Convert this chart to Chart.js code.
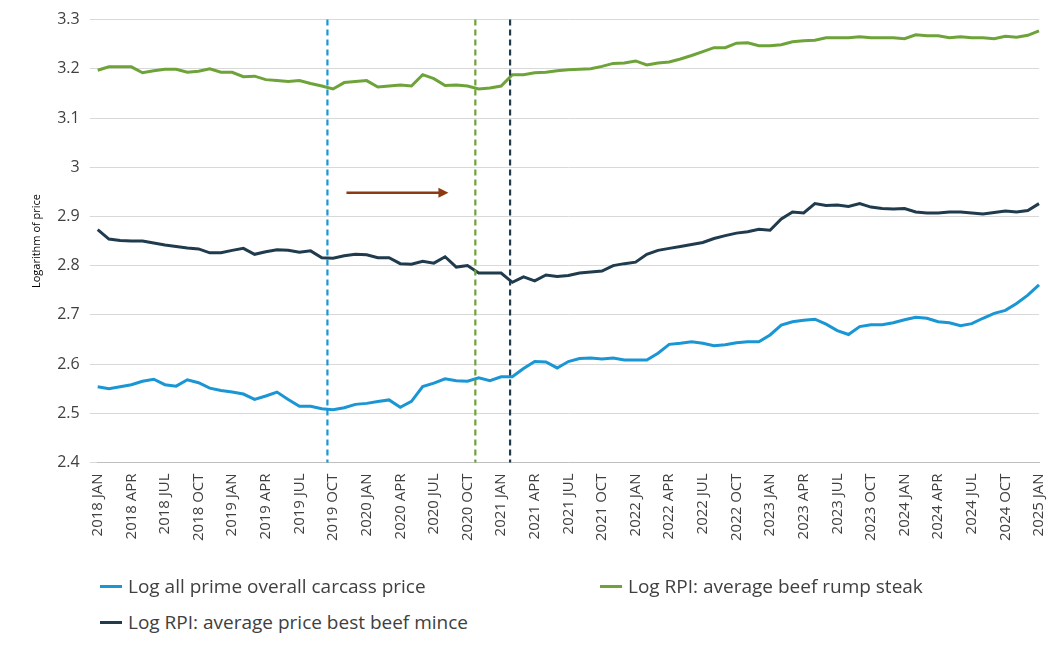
<!DOCTYPE html>
<html>
<head>
<meta charset="utf-8">
<script src="https://cdn.jsdelivr.net/npm/chart.js@4"></script>
<style>
body { margin: 0; background: #fff; font-family: "Open Sans", "Liberation Sans", sans-serif; }
#wrap { position: relative; width: 1060px; height: 655px; }
.leg { position: absolute; font-size: 19px; color: #404040; display: flex; align-items: center; }
.leg span { display: inline-block; width: 22px; height: 3px; margin-right: 6px; }
</style>
</head>
<body>
<div id="wrap">
<canvas id="c" width="1060" height="575" style="width:1060px;height:575px"></canvas>
<div class="leg" style="left:100px;top:573px"><span style="background:#1a96d4"></span>Log all prime overall carcass price</div>
<div class="leg" style="left:600px;top:573px"><span style="background:#6ea33a"></span>Log RPI: average beef rump steak</div>
<div class="leg" style="left:100px;top:609px"><span style="background:#1f3b4d"></span>Log RPI: average price best beef mince</div>
</div>
<script>
const months = ['JAN','FEB','MAR','APR','MAY','JUN','JUL','AUG','SEP','OCT','NOV','DEC'];
const labels = [];
for (let y = 2018; y <= 2025; y++) months.forEach(m => { if (labels.length < 85) labels.push(y + ' ' + m); });

const carcass = [2.554,2.55,2.554,2.558,2.565,2.569,2.558,2.555,2.568,2.562,2.551,2.546,2.543,2.539,2.528,2.535,
  2.543,2.528,2.514,2.514,2.509,2.507,2.511,2.518,2.52,2.524,2.527,2.512,2.524,2.554,2.561,2.57,2.566,2.565,2.572,
  2.566,2.574,2.574,2.591,2.605,2.604,2.592,2.605,2.611,2.612,2.61,2.612,2.608,2.608,2.608,2.622,2.64,2.642,2.645,
  2.642,2.637,2.639,2.643,2.645,2.645,2.659,2.679,2.686,2.689,2.691,2.681,2.668,2.66,2.676,2.68,2.68,2.684,2.69,
  2.695,2.693,2.686,2.684,2.678,2.682,2.693,2.703,2.709,2.723,2.74,2.761];
const rump = [3.197,3.204,3.204,3.204,3.192,3.196,3.199,3.199,3.193,3.195,3.2,3.193,3.193,3.184,3.185,3.178,3.176,
  3.174,3.176,3.17,3.165,3.159,3.172,3.174,3.176,3.163,3.165,3.167,3.165,3.188,3.18,3.166,3.167,3.165,3.159,3.161,
  3.165,3.188,3.188,3.192,3.193,3.196,3.198,3.199,3.2,3.205,3.211,3.212,3.216,3.208,3.212,3.214,3.22,3.227,3.235,
  3.243,3.243,3.252,3.253,3.247,3.247,3.249,3.255,3.257,3.258,3.263,3.263,3.263,3.265,3.263,3.263,3.263,3.261,
  3.269,3.267,3.267,3.263,3.265,3.263,3.263,3.261,3.266,3.264,3.268,3.277];
const mince = [2.873,2.854,2.851,2.85,2.85,2.846,2.842,2.839,2.836,2.834,2.826,2.826,2.831,2.835,2.823,2.828,2.832,
  2.831,2.827,2.83,2.816,2.815,2.82,2.823,2.822,2.816,2.816,2.804,2.803,2.809,2.805,2.818,2.797,2.8,2.785,2.785,
  2.785,2.766,2.777,2.769,2.781,2.778,2.78,2.785,2.787,2.789,2.8,2.804,2.807,2.823,2.831,2.835,2.839,2.843,2.847,
  2.855,2.861,2.866,2.869,2.874,2.872,2.895,2.909,2.907,2.926,2.922,2.923,2.92,2.926,2.919,2.916,2.915,2.916,
  2.909,2.907,2.907,2.909,2.909,2.907,2.905,2.908,2.911,2.909,2.912,2.926];

// vertical dashed markers (category index) and the arrow
const markers = [{ at: 20.5, color: '#1a96d4' }, { at: 33.7, color: '#6ea33a' }, { at: 36.8, color: '#1f3b4d' }];
const arrow = { from: 22.2, to: 31.3, y: 2.948 };

const overlay = {
  id: 'overlay',
  afterDatasetsDraw(chart) {
    const { ctx, chartArea: a, scales: { x, y } } = chart;
    ctx.save();
    ctx.lineWidth = 2.2;
    ctx.setLineDash([6, 4]);
    markers.forEach(m => {
      const px = x.getPixelForValue(m.at);
      ctx.strokeStyle = m.color;
      ctx.beginPath(); ctx.moveTo(px, a.top); ctx.lineTo(px, a.bottom); ctx.stroke();
    });
    ctx.setLineDash([]);
    const x1 = x.getPixelForValue(arrow.from), x2 = x.getPixelForValue(arrow.to), py = y.getPixelForValue(arrow.y);
    ctx.strokeStyle = ctx.fillStyle = '#8b3a13';
    ctx.lineWidth = 2.5;
    ctx.beginPath(); ctx.moveTo(x1, py); ctx.lineTo(x2 - 8, py); ctx.stroke();
    ctx.beginPath(); ctx.moveTo(x2, py); ctx.lineTo(x2 - 10, py - 5); ctx.lineTo(x2 - 10, py + 5); ctx.closePath(); ctx.fill();
    ctx.restore();
  }
};

const ds = (data, color) => ({ data, borderColor: color, borderWidth: 3, pointRadius: 0, tension: 0, fill: false });

new Chart(document.getElementById('c'), {
  type: 'line',
  data: { labels, datasets: [ds(carcass, '#1a96d4'), ds(rump, '#6ea33a'), ds(mince, '#1f3b4d')] },
  options: {
    responsive: false,
    animation: false,
    layout: { padding: { top: 10, right: 18, left: 26, bottom: 31 } },
    plugins: { legend: { display: false }, tooltip: { enabled: false } },
    scales: {
      x: {
        offset: false,
        grid: { display: false },
        border: { color: '#bfbfbf' },
        ticks: {
          autoSkip: false, maxRotation: 90, minRotation: 90, color: '#404040',
          font: { size: 15, family: 'Open Sans' },
          callback: (v, i) => i % 3 === 0 ? labels[i] : ''
        }
      },
      y: {
        min: 2.4, max: 3.3,
        grid: { color: '#d9d9d9' },
        border: { display: false },
        title: { display: true, text: 'Logarithm of price', color: '#000', font: { size: 11, family: 'Open Sans' } },
        ticks: { stepSize: 0.1, color: '#404040', font: { size: 16, family: 'Open Sans' }, padding: 10,
          callback: v => Math.round(v * 10) / 10 }
      }
    }
  },
  plugins: [overlay]
});
</script>
</body>
</html>
